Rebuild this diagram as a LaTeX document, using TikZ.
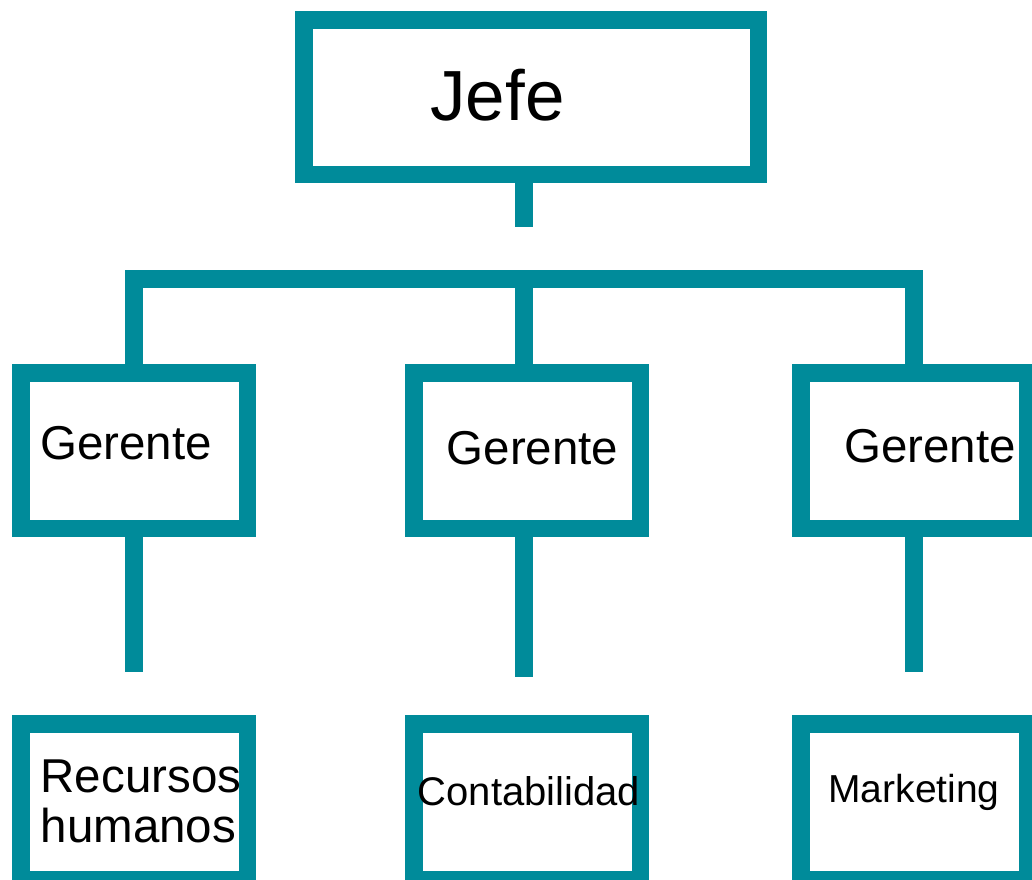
\documentclass[tikz,border=0pt]{standalone}
\usepackage{fontspec
           ,tikz}
\setmainfont{Liberation Sans}
\definecolor{orgteal}{RGB}{0,139,154}

\begin{document}
\begin{tikzpicture}[x=1pt,y=-1pt,
    orgbox/.style={draw=orgteal,line width=17.5pt,inner sep=0pt,
                   minimum width=226.5pt,minimum height=155.5pt},
    orglink/.style={draw=orgteal,line width=17.5pt,line join=miter},
    orgtext/.style={inner sep=0pt,anchor=base}]
\useasboundingbox (0,0) rectangle (1032,879);
% boxes
\node [orgbox,minimum width=454.5pt,minimum height=154.5pt] (jefe) at (531,97) {};
\node [orgbox] (gerA) at (134,450.5) {};
\node [orgbox] (gerB) at (527,450.5) {};
\node [orgbox] (gerC) at (914,450.5) {};
\node [orgbox] (rrhh) at (134,801.5) {};
\node [orgbox] (conta) at (527,801.5) {};
\node [orgbox] (mkt) at (914,801.5) {};
% texts
\node [orgtext,font=\fontsize{71}{85}\selectfont] (jefetxt) at (497.5,120) {Jefe};
\node [orgtext,font=\fontsize{47.5}{57}\selectfont] (gerAtxt) at (126,459) {Gerente};
\node [orgtext,font=\fontsize{47.5}{57}\selectfont] (gerBtxt) at (532.5,464) {Gerente};
\node [orgtext,font=\fontsize{47.5}{57}\selectfont] (gerCtxt) at (930,462) {Gerente};
\node [orgtext,anchor=base west,align=left,font=\fontsize{47.5}{50}\selectfont] (rrhhtxt) at (40.5,842) {Recursos\\humanos};
\node [orgtext,font=\fontsize{40}{48}\selectfont] (contatxt) at (529,805) {Contabilidad};
\node [orgtext,font=\fontsize{39}{47}\selectfont] (mkttxt) at (914,802) {Marketing};
% connectors
\coordinate (jefestem) at (524,227);
\coordinate (hub) at (524,279);
\coordinate (endA) at (134,671.7);
\coordinate (endB) at (524,676.7);
\coordinate (endC) at (914,671.7);
\draw [orglink] (jefe.south -| jefestem) -- (jefestem);
\draw [orglink] (gerA.north) -- (gerA.north |- hub) -- (gerC.north |- hub) -- (gerC.north);
\draw [orglink] (hub) -- (hub |- gerB.north);
\draw [orglink] (gerA.south) -- (endA);
\draw [orglink] (gerB.south -| endB) -- (endB);
\draw [orglink] (gerC.south) -- (endC);
\end{tikzpicture}
\end{document}
